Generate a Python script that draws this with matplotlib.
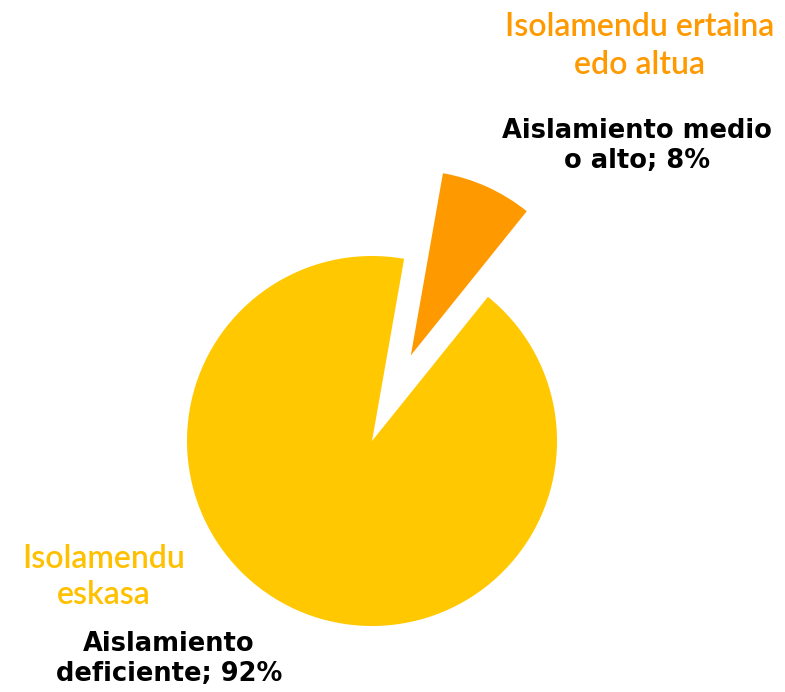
''' Pie chart: insulation level'''

import matplotlib.pyplot as plt

# data
labels_es = ['Aislamiento\ndeficiente; 92%', 'Aislamiento medio\no alto; 8%']
labels_eu = ['Isolamendu\neskasa', 'Isolamendu ertaina\nedo altua']
shares = [92, 8]
colors = ['#FFC800', '#FF9900']

# figure in pixel coordinates (y up)
fig = plt.figure(figsize=(7.85, 6.92), dpi=100)
ax = fig.add_axes([0, 0, 1, 1])

# explode is in data units here (radius is 185 px)
ax.pie(shares, colors=colors, startangle=80, counterclock=True,
       explode=[0, 94], center=(372, 692 - 441), radius=185,
       wedgeprops={'linewidth': 0})

# pie() resets the limits, so set them afterwards
ax.set_xlim(0, 785)
ax.set_ylim(0, 692)
ax.set_aspect('equal')
ax.axis('off')

# basque labels
ax.text(104, 692 - 577, labels_eu[0], color='#FFC000', fontsize=23,
        family='Lato', fontweight='semibold', ha='center', va='center',
        linespacing=1.25)
ax.text(640, 692 - 46, labels_eu[1], color='#FF9900', fontsize=23,
        family='Lato', fontweight='semibold', ha='center', va='center',
        linespacing=1.35)

# spanish labels
ax.text(169, 692 - 659, labels_es[0], color='black', fontsize=18.5,
        fontweight='bold', ha='center', va='center', linespacing=1.2)
ax.text(637, 692 - 146, labels_es[1], color='black', fontsize=18.5,
        fontweight='bold', ha='center', va='center', linespacing=1.2)

fig.savefig('out.png', dpi=100)
